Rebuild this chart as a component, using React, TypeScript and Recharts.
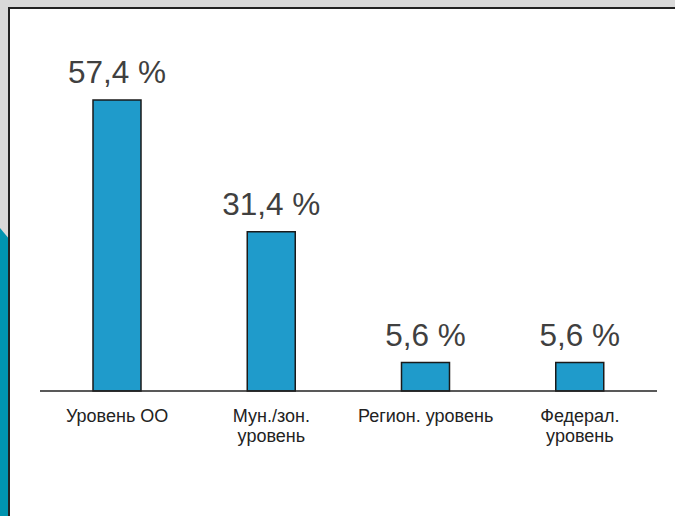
import { BarChart, Bar, XAxis, YAxis, LabelList } from 'recharts'

// categories (line breaks as in the source slide)
const categories = ['Уровень ОО', 'Мун./зон.\nуровень', 'Регион. уровень', 'Федерал.\nуровень']
const shares = [57.4, 31.4, 5.6, 5.6]

const data = categories.map((name, i) => ({ name, value: shares[i] }))

const fmt = (v: number) => `${v.toFixed(1).replace('.', ',')} %`

function CategoryTick(props: any) {
  const { x, y, payload } = props
  const lines = String(payload.value).split('\n')
  return (
    <text x={x} y={y} textAnchor="middle" fill="#222" fontSize={18} fontFamily="'Liberation Sans', Arial, sans-serif">
      {lines.map((l, i) => (
        <tspan key={i} x={x} dy={i === 0 ? 31 : 20}>{l}</tspan>
      ))}
    </text>
  )
}

export default function App() {
  return (
    <div style={{ position: 'absolute', left: 0, top: 0, width: 675, height: 516, background: '#d9d9d9', overflow: 'hidden' }}>
      {/* teal strip on the left edge */}
      <div style={{ position: 'absolute', left: 0, top: 0, width: 10, height: 516, background: '#0094b0', clipPath: 'polygon(0 228px, 10px 240px, 10px 516px, 0 516px)' }} />
      {/* white slide panel */}
      <div style={{ position: 'absolute', left: 8, top: 7, width: 680, height: 520, background: '#fff', borderLeft: '2px solid #222', borderTop: '2px solid #222' }} />
      <div style={{ position: 'absolute', left: 0, top: 0 }}>
        <BarChart width={675} height={516} data={data} margin={{ top: 36, right: 18, left: 40, bottom: 65 }} barCategoryGap={0}>
          <XAxis
            dataKey="name"
            tick={<CategoryTick />}
            tickLine={false}
            tickSize={0}
            tickMargin={0}
            interval={0}
            height={60}
            axisLine={{ stroke: '#222', strokeWidth: 1.5 }}
          />
          <YAxis hide domain={[0, 70]} />
          <Bar dataKey="value" fill="#1f9bcb" stroke="#1a1a1a" strokeWidth={1.5} barSize={48} isAnimationActive={false}>
            <LabelList dataKey="value" position="top" offset={17} formatter={(v: any) => fmt(Number(v))} fill="#404040" fontSize={31.5} fontFamily="'Liberation Sans', Arial, sans-serif" />
          </Bar>
        </BarChart>
      </div>
    </div>
  )
}
